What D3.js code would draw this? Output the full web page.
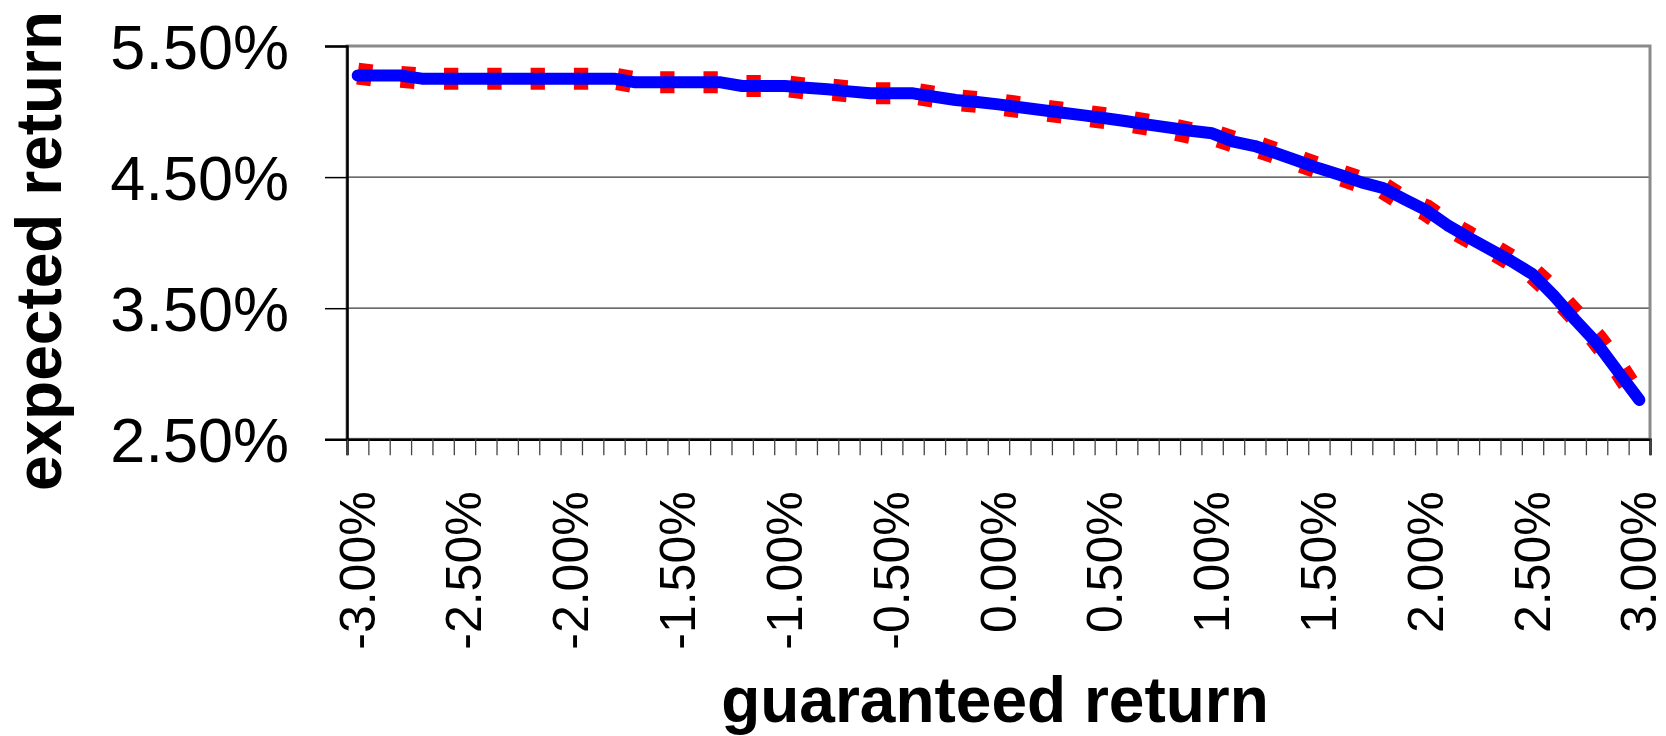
<!DOCTYPE html>
<html>
<head>
<meta charset="utf-8">
<script src="https://cdn.jsdelivr.net/npm/d3@7"></script>
<style>
  body { margin: 0; background: #fff; }
  svg { display: block; }
  .axis text { font-family: "Liberation Sans", Arial, sans-serif; fill: #000; }
  .title { font-family: "Liberation Sans", Arial, sans-serif; font-weight: bold; font-size: 64px; fill: #000; }
</style>
</head>
<body>
<div id="chart"></div>
<script>
// guaranteed return categories (-3.00% .. 3.00%, step 0.10%)
var categories = ["-3.00%","-2.90%","-2.80%","-2.70%","-2.60%","-2.50%","-2.40%","-2.30%","-2.20%","-2.10%",
  "-2.00%","-1.90%","-1.80%","-1.70%","-1.60%","-1.50%","-1.40%","-1.30%","-1.20%","-1.10%",
  "-1.00%","-0.90%","-0.80%","-0.70%","-0.60%","-0.50%","-0.40%","-0.30%","-0.20%","-0.10%",
  "0.00%","0.10%","0.20%","0.30%","0.40%","0.50%","0.60%","0.70%","0.80%","0.90%",
  "1.00%","1.10%","1.20%","1.30%","1.40%","1.50%","1.60%","1.70%","1.80%","1.90%",
  "2.00%","2.10%","2.20%","2.30%","2.40%","2.50%","2.60%","2.70%","2.80%","2.90%","3.00%"];

// expected return, solid blue series (%)
var blueValues = [5.275,5.275,5.275,5.251,5.251,5.251,5.251,5.251,5.251,5.251,
  5.251,5.251,5.251,5.223,5.223,5.223,5.223,5.223,5.195,5.195,
  5.195,5.182,5.170,5.154,5.139,5.139,5.139,5.113,5.088,5.073,
  5.055,5.033,5.012,4.991,4.971,4.949,4.926,4.900,4.877,4.854,
  4.834,4.770,4.737,4.682,4.625,4.567,4.516,4.460,4.417,4.331,
  4.249,4.135,4.040,3.950,3.860,3.760,3.595,3.410,3.235,3.017,2.800];

// expected return, dashed red series (%)
var redValues = [5.290,5.268,5.265,5.251,5.251,5.251,5.251,5.251,5.251,5.251,
  5.251,5.251,5.251,5.223,5.223,5.223,5.223,5.223,5.195,5.195,
  5.195,5.175,5.170,5.154,5.139,5.139,5.139,5.113,5.088,5.073,
  5.055,5.033,5.012,4.991,4.971,4.949,4.926,4.900,4.870,4.835,
  4.825,4.770,4.737,4.682,4.625,4.567,4.516,4.460,4.417,4.315,
  4.249,4.135,4.045,3.965,3.865,3.770,3.620,3.445,3.265,3.050,2.800];

var yTicks = [2.5, 3.5, 4.5, 5.5];
var xLabelEvery = 5;

var width = 1666, height = 736;
var plot = {left: 347, right: 1650, top: 46, bottom: 439.3};

var svg = d3.select("#chart").append("svg")
    .attr("width", width)
    .attr("height", height);

var x = d3.scaleBand().domain(categories).range([plot.left, plot.right]).padding(0);
var xPos = d3.scaleLinear().domain([0, categories.length]).range([plot.left, plot.right]);
var y = d3.scaleLinear().domain([2.5, 5.5]).range([plot.bottom, plot.top]);

function cx(i) { return x(categories[i]) + x.bandwidth() / 2; }

// gridlines
svg.append("g")
  .selectAll("line")
  .data(yTicks.filter(function(d) { return d > 2.5 && d < 5.5; }))
  .enter().append("line")
    .attr("x1", plot.left).attr("x2", plot.right)
    .attr("y1", function(d) { return y(d); })
    .attr("y2", function(d) { return y(d); })
    .attr("stroke", "#3a3a3a")
    .attr("stroke-width", 1.2);

// plot frame
svg.append("rect")
    .attr("x", plot.left).attr("y", plot.top)
    .attr("width", plot.right - plot.left)
    .attr("height", plot.bottom - plot.top)
    .attr("fill", "none")
    .attr("stroke", "#8a8a8a")
    .attr("stroke-width", 3);

// y axis
var yAxis = svg.append("g")
    .attr("class", "axis")
    .attr("transform", "translate(" + plot.left + ",0)")
    .call(d3.axisLeft(y).tickValues(yTicks).tickSize(22).tickPadding(36)
      .tickFormat(function(d) { return d.toFixed(2) + "%"; }));
yAxis.selectAll("text").style("font-size", "63px").attr("dy", "0.36em");
yAxis.selectAll("line").attr("stroke", "#000").attr("stroke-width", 1.5);
yAxis.select(".domain").attr("stroke", "#000").attr("stroke-width", 2.5);

// x axis: tick marks on category boundaries
var xTicks = svg.append("g")
    .attr("class", "axis")
    .attr("transform", "translate(0," + plot.bottom + ")")
    .call(d3.axisBottom(xPos).tickValues(d3.range(categories.length + 1)).tickSize(16).tickFormat(""));
xTicks.selectAll("line").attr("stroke", "#444").attr("stroke-width", 1.3);
xTicks.select(".domain").attr("stroke", "#000").attr("stroke-width", 2.5);

// x axis: rotated labels every 5th category
var xLabels = svg.append("g")
    .attr("class", "axis")
    .attr("transform", "translate(0," + plot.bottom + ")")
    .call(d3.axisBottom(x)
      .tickValues(categories.filter(function(d, i) { return i % xLabelEvery === 0; }))
      .tickSize(0));
xLabels.select(".domain").remove();
xLabels.selectAll("text")
    .style("font-size", "50px")
    .style("text-anchor", "end")
    .attr("transform", "rotate(-90)")
    .attr("x", -52)
    .attr("y", 0)
    .attr("dy", "0.34em");

// series
var line = d3.line()
    .x(function(d, i) { return cx(i); })
    .y(function(d) { return y(d); });

svg.append("path")
    .datum(redValues)
    .attr("d", line)
    .attr("fill", "none")
    .attr("stroke", "#ff0000")
    .attr("stroke-width", 22)
    .attr("stroke-dasharray", "14.3,29");

svg.append("path")
    .datum(blueValues)
    .attr("d", line)
    .attr("fill", "none")
    .attr("stroke", "#0000ff")
    .attr("stroke-width", 12)
    .attr("stroke-linejoin", "round")
    .attr("stroke-linecap", "round");

// axis titles
svg.append("text")
    .attr("class", "title")
    .attr("text-anchor", "middle")
    .attr("transform", "translate(61," + 251 + ")rotate(-90)")
    .text("expected return");

svg.append("text")
    .attr("class", "title")
    .attr("text-anchor", "middle")
    .attr("x", 995)
    .attr("y", 722)
    .text("guaranteed return");
</script>
</body>
</html>
